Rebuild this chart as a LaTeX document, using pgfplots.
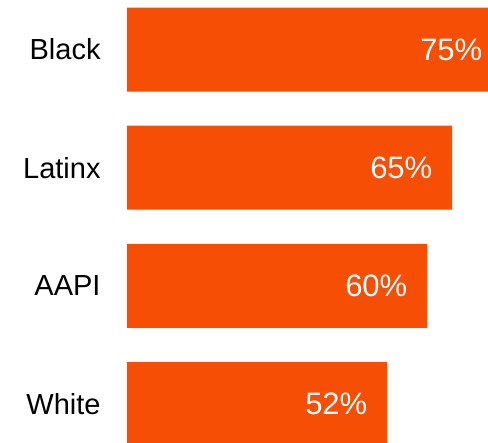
\documentclass[border=0pt]{standalone}
\usepackage{pgfplots}
\pgfplotsset{compat=1.18}
\usepackage{fontspec}
\setmainfont{Liberation Sans}
\definecolor{barorange}{HTML}{F74E06}
\begin{document}
\begin{tikzpicture}
\begin{axis}[
  name=ax,
  xbar,
  clip=false,
  scale only axis,
  width=361bp, height=443bp,
  xmin=0, xmax=72.2,
  ymin=-0.33, ymax=3.42,
  axis line style={draw=none},
  tick style={draw=none},
  xtick=\empty,
  ytick={0,1,2,3},
  yticklabels={White,AAPI,Latinx,Black},
  yticklabel style={anchor=east, inner sep=0pt, xshift=-22bp, font=\fontsize{29bp}{32bp}\selectfont, text=black},
  bar width=84bp,
  bar shift=0pt,
  /pgf/number format/assume math mode=true,
  nodes near coords={\pgfmathprintnumber{\pgfplotspointmeta}\%},
  point meta=x,
  nodes near coords style={anchor=east, xshift=-19.5bp, text=white, inner sep=0pt, font=\fontsize{31bp}{34bp}\selectfont},
]
\addplot[fill=barorange, draw=none] coordinates {(52,0) (60,1) (65,2) (75,3)};
\end{axis}
\pgfresetboundingbox
\path[use as bounding box] ([xshift=-127bp]ax.south west) rectangle (ax.north east);
\end{tikzpicture}
\end{document}
